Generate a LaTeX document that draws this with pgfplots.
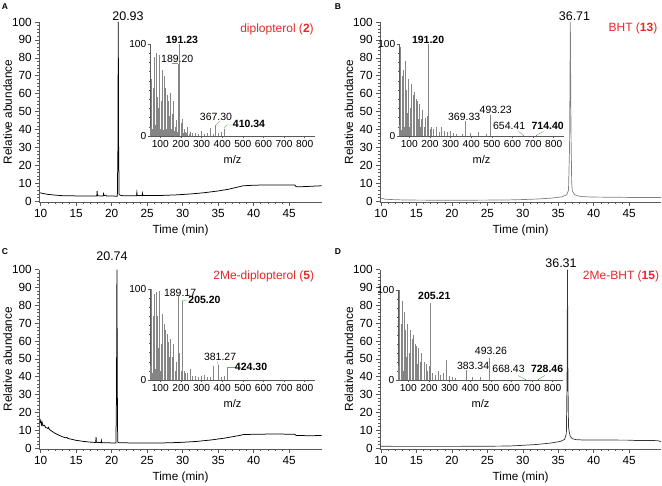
\documentclass[border=0pt]{standalone}
\usepackage{pgfplots}
\pgfplotsset{compat=1.18}
\usepackage{fontspec}
\setmainfont{Liberation Sans}
\definecolor{lblred}{RGB}{232,38,38}
\definecolor{leadgreen}{RGB}{95,175,95}
\tikzset{
 plab/.style={font=\fontsize{10.5}{11}\selectfont, inner sep=0.5pt},
 blab/.style={font=\bfseries\fontsize{10.5}{11}\selectfont, inner sep=0.5pt},
 lead/.style={leadgreen, line width=0.4pt},
}
\pgfplotsset{
 chrom/.style={
  scale only axis, axis lines=left, axis line style={-, black!65, line width=0.6pt},
  tick align=outside, major tick length=4pt, minor tick length=2.2pt,
  tick style={black!65, line width=0.5pt},
  ymin=-0.5, ymax=100, ytick={0,10,...,100}, minor y tick num=4,
  xtick={10,15,...,45}, minor x tick num=4,
  tick label style={font=\fontsize{11.8}{12}\selectfont},
  /pgf/number format/assume math mode=true,
  xlabel={Time (min)}, ylabel={Relative abundance},
  label style={font=\fontsize{11.8}{13}\selectfont},
  xlabel style={at={(axis description cs:0.5,-0.16)}, anchor=center},
  ylabel style={at={(axis description cs:-0.112,0.5)}, anchor=center},
  clip=false, anchor=south west,
 },
 ms/.style={
  scale only axis, axis lines=left, axis line style={-, black!65, line width=0.5pt},
  tick align=outside, major tick length=2.5pt, minor tick length=1.5pt,
  tick style={black!65, line width=0.4pt},
  xmin=50, xmax=850, ymin=0, ymax=100,
  xtick={100,200,...,800}, minor x tick num=4,
  ytick={0,100}, minor ytick={10,20,...,90},
  tick label style={font=\fontsize{10.2}{11}\selectfont},
  xticklabel style={inner sep=1.5pt},
  yticklabel style={inner sep=1pt},
  /pgf/number format/assume math mode=true,
  xlabel={m/z}, label style={font=\fontsize{11}{12}\selectfont},
  xlabel style={at={(axis description cs:0.5,-0.26)}, anchor=center},
  clip=false, anchor=south west, width=165pt,
 },
 bars/.style={ycomb, mark=none, black!48, line width=0.4pt},
}
\begin{document}
\begin{tikzpicture}
\useasboundingbox (0,0) rectangle (662pt,486pt);

% ---------------- Panel A ----------------
\begin{axis}[chrom, at={(39.3pt,284.1pt)}, width=282.4pt, height=179.9pt, xmin=9.8, xmax=49.6]
\addplot[black, line width=0.75pt] coordinates {
(9.9,4.6)(10.3,4.2)(11,3.7)(12,3.3)(13,3.0)(14,2.9)(16,2.8)(17.9,2.8)(17.95,5.6)(18.0,2.9)
(18.8,2.8)(18.85,4.0)(18.9,3.1)(19.2,3.2)(19.25,2.8)(20.8,2.7)(20.88,30)(20.93,100)(20.98,30)
(21.05,3.8)(21.2,3.2)(21.5,3.0)(23.5,3.0)(23.55,4.8)(23.6,3.1)(24.3,3.0)(24.35,4.3)(24.4,3.1)
(25,3.0)(27,3.1)(29,3.4)(31,3.9)(33,4.6)(35,5.6)(36.5,6.6)(38,8.0)(38.5,8.5)(40,8.8)(42,9.0)
(44,9.0)(45.8,9.0)(46,8.0)(46.2,7.9)(48,8.2)(49,8.4)(49.6,8.5)};
\end{axis}
\begin{axis}[ms, at={(150pt,350pt)}, height=92pt]
\addplot[bars] coordinates {
(53,10)(54,5)(55,62)(56,8)(57,45)(59,8)(65,8)(66,6)(67,52)(68,10)(69,86)(70,12)(71,35)(73,10)(77,12)
(79,28)(80,8)(81,90)(82,10)(83,42)(85,15)(91,30)(93,45)(94,8)(95,88)(96,10)(97,35)(99,8)(103,5)
(105,38)(106,8)(107,60)(108,10)(109,72)(110,8)(111,18)(115,6)(117,8)(119,33)(120,6)(121,65)(122,9)
(123,52)(125,10)(129,8)(131,12)(133,28)(134,6)(135,45)(136,8)(137,38)(139,8)(143,8)(145,22)(147,42)
(148,8)(149,47)(151,8)(155,5)(157,8)(159,24)(161,38)(162,6)(163,22)(165,5)(169,4)(171,5)(173,10)
(175,17)(177,15)(179,4)(183,4)(185,5)(187,14)(189,78)(190,12)(191,100)(192,16)(193,14)(199,4)(201,7)
(203,14)(205,18)(207,8)(213,3)(215,6)(217,8)(219,4)(227,3)(229,10)(231,5)(241,2)(243,4)(245,3)
(255,2)(257,3)(269,2)(271,3)(285,2)(297,2)(299,5)(313,2)(327,3)(341,9)(355,2)(367,12)(382,3)
(395,4)(410,8)};
\node[blab, anchor=south] at (axis cs:205,100) {191.23};
\node[plab] at (axis cs:182,84) {189.20};
\draw[lead] (axis cs:158,79)--(axis cs:188,79);
\node[plab] at (axis cs:370,21) {367.30};
\draw[lead] (axis cs:367,11)--(axis cs:388,16.5);
\node[blab] at (axis cs:530,13) {410.34};
\draw[lead] (axis cs:410,8.5)--(axis cs:422,12)--(axis cs:452,12);
\end{axis}

% ---------------- Panel B ----------------
\begin{axis}[chrom, at={(380.3pt,284.1pt)}, width=280.7pt, height=179.9pt, xmin=9.9, xmax=49.5]
\addplot[black!50, line width=0.7pt] coordinates {
(9.9,1.6)(10.2,1.4)(10.6,1.0)(11.5,0.8)(13,0.6)(15,0.5)(20,0.4)(25,0.5)(28,0.6)(30,0.8)(32,1.1)
(34,1.6)(35.5,2.3)(36.2,3.5)(36.45,6)(36.6,30)(36.71,100)(36.8,40)(36.9,10)(37.0,5.5)(37.3,3.6)
(37.8,2.8)(38.5,2.4)(40,2.2)(45,2.0)(49.5,1.9)};
\end{axis}
\begin{axis}[ms, at={(399pt,350pt)}, height=92pt]
\addplot[bars] coordinates {
(53,12)(54,6)(55,97)(56,10)(57,55)(59,6)(65,10)(67,65)(68,10)(69,72)(70,10)(71,40)(73,8)(77,10)
(79,30)(81,82)(82,10)(83,50)(85,20)(91,25)(93,38)(95,62)(96,9)(97,45)(99,10)(105,30)(107,56)(108,8)
(109,50)(111,15)(119,28)(121,45)(122,8)(123,48)(125,12)(133,22)(135,40)(137,38)(139,8)(145,18)
(147,32)(149,35)(151,10)(159,18)(161,28)(163,25)(173,10)(175,20)(177,18)(187,10)(189,22)(191,100)
(192,14)(193,12)(201,5)(203,8)(205,10)(215,6)(217,8)(229,6)(231,10)(243,4)(257,10)(271,5)(285,4)
(299,5)(313,3)(327,2)(355,2)(369,16)(395,3)(435,4)(475,2)(493,23)(654,0.8)(714,0.8)};
\node[blab, anchor=south] at (axis cs:191,100) {191.20};
\node[plab] at (axis cs:366,21) {369.33};
\node[plab] at (axis cs:519,28) {493.23};
\node[plab] at (axis cs:584,11) {654.41};
\draw[lead] (axis cs:630,5)--(axis cs:654,0.5);
\node[blab] at (axis cs:771,11) {714.40};
\draw[lead] (axis cs:714,0.5)--(axis cs:750,5);
\end{axis}

% ---------------- Panel C ----------------
\begin{axis}[chrom, at={(39.3pt,37.1pt)}, width=282.4pt, height=179.2pt, xmin=9.8, xmax=49.6]
\addplot[black, line width=0.75pt] coordinates {
(9.9,14)(10.0,15.5)(10.1,13)(10.2,14.5)(10.3,12.5)(10.5,12.8)(10.7,11.5)(11,11)(11.1,11.6)(11.2,10.5)
(11.5,9.6)(12,8.3)(12.5,7.3)(13,6.4)(13.5,5.7)(13.7,6.0)(13.8,5.4)(14,5.2)(15,4.3)(16,3.7)(17,3.3)
(17.75,3.1)(17.8,6.2)(17.85,3.2)(18.5,3.0)(18.55,4.2)(18.6,3.0)(20.6,2.8)(20.68,30)(20.74,100)(20.8,30)
(20.85,3.3)(21,3.0)(23,2.8)(26,2.8)(28,2.9)(30,3.2)(32,3.7)(34,4.5)(36,5.6)(38,7.0)(38.5,7.5)(40,7.7)
(42,7.8)(44,7.8)(45.8,7.7)(46,7.0)(48,6.9)(49.6,7.0)};
\end{axis}
\begin{axis}[ms, at={(150pt,106pt)}, height=91pt]
\addplot[bars] coordinates {
(53,15)(54,6)(55,100)(56,10)(57,75)(59,8)(65,10)(67,70)(68,10)(69,95)(70,12)(71,50)(73,10)(77,12)
(79,35)(81,97)(82,12)(83,70)(85,20)(91,35)(93,55)(95,98)(96,10)(97,50)(99,10)(105,40)(107,72)(108,10)
(109,72)(111,22)(119,40)(121,62)(122,8)(123,55)(125,12)(133,35)(135,50)(137,42)(145,25)(147,45)
(149,45)(159,25)(161,40)(163,25)(173,10)(175,20)(177,15)(187,12)(189,92)(190,12)(191,30)(193,10)
(201,8)(203,10)(205,87)(206,14)(207,10)(215,6)(217,10)(219,8)(229,8)(231,6)(243,12)(245,6)(257,4)
(271,4)(285,3)(299,4)(313,5)(327,3)(341,3)(355,15)(381,17)(395,3)(409,4)(424,14)};
\node[plab, anchor=south] at (axis cs:196,91) {189.17};
\node[blab, anchor=west] at (axis cs:233,88) {205.20};
\draw[lead] (axis cs:205,87)--(axis cs:231,88);
\node[plab] at (axis cs:390,25) {381.27};
\draw[lead] (axis cs:376,20)--(axis cs:381,17);
\node[blab] at (axis cs:540,14) {424.30};
\draw[lead] (axis cs:424,14)--(axis cs:463,14);
\end{axis}

% ---------------- Panel D ----------------
\begin{axis}[chrom, at={(380.3pt,37.1pt)}, width=280.7pt, height=179.2pt, xmin=9.9, xmax=49.5]
\addplot[black!80, line width=0.7pt] coordinates {
(9.9,1.0)(12,0.9)(20,0.9)(25,1.0)(28,1.1)(30,1.5)(32,2.0)(34,2.8)(35.3,3.7)(35.9,4.8)(36.15,8)
(36.25,40)(36.31,100)(36.37,40)(36.45,12)(36.55,9)(36.7,6.5)(37,5.2)(37.5,4.7)(38.5,4.5)(40,4.5)(45,4.4)
(46,4.2)(48.5,4.2)(49.2,4.0)(49.5,3.4)};
\end{axis}
\begin{axis}[ms, at={(398pt,106pt)}, height=90pt]
\addplot[bars] coordinates {
(53,15)(54,6)(55,100)(56,10)(57,60)(67,62)(68,10)(69,88)(70,10)(71,45)(77,10)(79,30)(81,75)(82,10)
(83,55)(91,25)(93,40)(95,62)(96,8)(97,48)(105,30)(107,50)(109,55)(111,14)(119,30)(121,45)(123,50)
(133,25)(135,40)(137,38)(145,18)(147,30)(149,35)(159,20)(161,30)(163,25)(175,20)(177,18)(189,18)
(191,10)(203,15)(205,86)(206,14)(207,10)(217,8)(231,6)(245,10)(257,5)(271,8)(285,22)(299,4)(313,3)
(327,2)(383,11)(409,3)(449,3)(493,24)(668,0.8)(728,0.8)};
\node[blab, anchor=south] at (axis cs:226,89) {205.21};
\node[plab] at (axis cs:414,16) {383.34};
\node[plab] at (axis cs:501,32) {493.26};
\node[plab] at (axis cs:586,12) {668.43};
\draw[lead] (axis cs:632,5)--(axis cs:668,0.5);
\node[blab] at (axis cs:773,12) {728.46};
\draw[lead] (axis cs:728,0.5)--(axis cs:762,5);
\end{axis}

% ---------------- annotations ----------------
\node[font=\fontsize{12.5}{13}\selectfont] at (128pt,470pt) {20.93};
\node[font=\fontsize{12.5}{13}\selectfont] at (574.5pt,470pt) {36.71};
\node[font=\fontsize{12.5}{13}\selectfont] at (112pt,229.7pt) {20.74};
\node[font=\fontsize{12.5}{13}\selectfont] at (561pt,223pt) {36.31};
\node[lblred, font=\fontsize{12}{13}\selectfont] at (277pt,457pt) {diplopterol (\textbf{2})};
\node[lblred, font=\fontsize{12}{13}\selectfont] at (633pt,457.7pt) {BHT (\textbf{13})};
\node[lblred, font=\fontsize{12}{13}\selectfont] at (263.7pt,209.7pt) {2Me-diplopterol (\textbf{5})};
\node[lblred, font=\fontsize{12}{13}\selectfont] at (621pt,209.7pt) {2Me-BHT (\textbf{15})};
\node[font=\bfseries\fontsize{8.5}{9}\selectfont] at (5pt,479pt) {A};
\node[font=\bfseries\fontsize{8.5}{9}\selectfont] at (338pt,479pt) {B};
\node[font=\bfseries\fontsize{8.5}{9}\selectfont] at (5pt,234pt) {C};
\node[font=\bfseries\fontsize{8.5}{9}\selectfont] at (338pt,234pt) {D};
\end{tikzpicture}
\end{document}
